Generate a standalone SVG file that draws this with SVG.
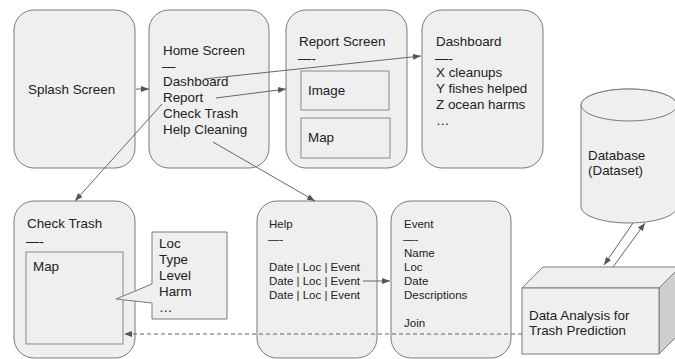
<svg xmlns="http://www.w3.org/2000/svg" width="675" height="359" viewBox="0 0 675 359">
<defs>
<style>
.node{fill:#efefef;stroke:#7a7a7a;stroke-width:1}
.inner{fill:#efefef;stroke:#8a8a8a;stroke-width:1}
.side{fill:#cfcfcf;stroke:#7a7a7a;stroke-width:1}
text{font-family:"Liberation Sans",Arial,sans-serif;font-size:13.4px;fill:#222}
.sm{font-size:11.5px}
.c{fill:none;stroke:#666;stroke-width:1}
.d{stroke-dasharray:4,3}
</style>
<marker id="ah" markerUnits="userSpaceOnUse" markerWidth="8" markerHeight="6" refX="8" refY="3" orient="auto">
<path d="M0,0 L8,3 L0,6 z" fill="#555"/>
</marker>
</defs>
<rect width="675" height="359" fill="#fff"/>

<g id="splash">
<rect class="node" x="14" y="10" width="121" height="158" rx="20"/>
<text x="28" y="94">Splash Screen</text>
</g>

<g id="home">
<rect class="node" x="149" y="10" width="120" height="158" rx="20"/>
<text x="163" y="55">Home Screen</text>
<text x="162" y="71">—</text>
<text x="163" y="86">Dashboard</text>
<text x="163" y="102">Report</text>
<text x="163" y="118">Check Trash</text>
<text x="163" y="134">Help Cleaning</text>
</g>

<g id="report">
<rect class="node" x="286" y="10" width="121" height="158" rx="20"/>
<text x="299" y="46">Report Screen</text>
<text x="298" y="63">—-</text>
<rect class="inner" x="301" y="71" width="88" height="39"/>
<text x="308" y="95">Image</text>
<rect class="inner" x="301" y="118" width="89" height="40"/>
<text x="308" y="142">Map</text>
</g>

<g id="dashboard">
<rect class="node" x="422" y="10" width="121" height="158" rx="20"/>
<text x="436" y="46">Dashboard</text>
<text x="435" y="63">—-</text>
<text x="436" y="77">X cleanups</text>
<text x="436" y="93">Y fishes helped</text>
<text x="436" y="109">Z ocean harms</text>
<text x="436" y="125">…</text>
</g>

<g id="checktrash">
<rect class="node" x="14" y="201" width="121" height="157" rx="20"/>
<text x="27" y="228">Check Trash</text>
<text x="26" y="246">—-</text>
<rect class="inner" x="26" y="252" width="97" height="92"/>
<text x="33" y="271">Map</text>
</g>

<g id="callout">
<path class="node" d="M152,232 H227 V319 H152 V303 L116,299 L152,284 Z"/>
<text x="159" y="248">Loc</text>
<text x="159" y="264">Type</text>
<text x="159" y="280">Level</text>
<text x="159" y="296">Harm</text>
<text x="159" y="312">…</text>
</g>

<g id="help">
<rect class="node" x="257" y="201" width="120" height="157" rx="20"/>
<text class="sm" x="269" y="228">Help</text>
<text class="sm" x="268" y="243">—-</text>
<text class="sm" x="269" y="271">Date | Loc | Event</text>
<text class="sm" x="269" y="285">Date | Loc | Event</text>
<text class="sm" x="269" y="299">Date | Loc | Event</text>
</g>

<g id="event">
<rect class="node" x="391" y="201" width="120" height="157" rx="20"/>
<text class="sm" x="404" y="228">Event</text>
<text class="sm" x="403" y="243">—-</text>
<text class="sm" x="404" y="257">Name</text>
<text class="sm" x="404" y="271">Loc</text>
<text class="sm" x="404" y="285">Date</text>
<text class="sm" x="404" y="299">Descriptions</text>
<text class="sm" x="404" y="327">Join</text>
</g>

<g id="database">
<path class="node" d="M581,105 A48,16 0 0,1 677,105 V207 A48,16 0 0,1 581,207 Z"/>
<ellipse class="node" cx="629" cy="105" rx="48" ry="16"/>
<text x="588" y="160">Database</text>
<text x="588" y="175">(Dataset)</text>
</g>

<g id="analysis">
<polygon class="node" points="522,288 543,267 680,267 659,288"/>
<polygon class="side" points="659,288 680,267 680,333 659,354"/>
<rect class="node" x="522" y="288" width="137" height="66"/>
<text x="529" y="320">Data Analysis for</text>
<text x="529" y="335">Trash Prediction</text>
</g>

<g id="connectors">
<line class="c" x1="136" y1="89" x2="149" y2="89" marker-end="url(#ah)"/>
<line class="c" x1="204" y1="79" x2="421" y2="56" marker-end="url(#ah)"/>
<line class="c" x1="216" y1="98" x2="286" y2="89" marker-end="url(#ah)"/>
<line class="c" x1="162" y1="104" x2="75" y2="201" marker-end="url(#ah)"/>
<line class="c" x1="213" y1="142" x2="315" y2="201" marker-end="url(#ah)"/>
<line class="c" x1="363" y1="281" x2="390" y2="281" marker-end="url(#ah)"/>
<line class="c d" x1="522" y1="334" x2="124" y2="334" marker-end="url(#ah)"/>
<line class="c" x1="633" y1="223" x2="604" y2="265" marker-end="url(#ah)"/>
<line class="c" x1="613" y1="267" x2="645" y2="223" marker-end="url(#ah)"/>
</g>
</svg>
